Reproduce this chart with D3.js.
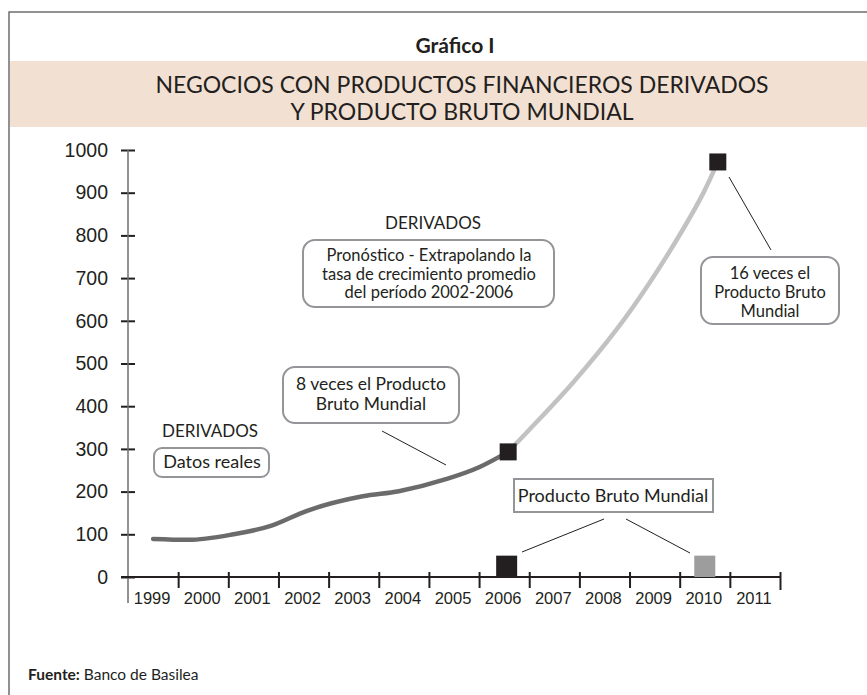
<!DOCTYPE html>
<html>
<head>
<meta charset="utf-8">
<script src="https://cdn.jsdelivr.net/npm/d3@7"></script>
<style>
  body { margin: 0; background: #fff; }
  svg { display: block; }
  .gill { font-family: Lato, "Open Sans", sans-serif; fill: #231f20; }
  .arial { font-family: "Liberation Sans", Arial, sans-serif; fill: #231f20; }
</style>
</head>
<body>
<script>
// data
var years = [1999, 2000, 2001, 2002, 2003, 2004, 2005, 2006, 2007, 2008, 2009, 2010, 2011];
var yTicks = [0, 100, 200, 300, 400, 500, 600, 700, 800, 900, 1000];

var realYears = [1999.0, 1999.7, 2000.6, 2001.33, 2002.07, 2003.18, 2003.9, 2004.84, 2005.5, 2006.08];
var realValues = [89, 87, 100, 119, 155, 189, 201, 229, 257, 293];

var forecastYears = [2006.08, 2006.52, 2007.37, 2008.25, 2008.91, 2009.57, 2009.97, 2010.26];
var forecastValues = [293, 347, 455, 581, 691, 815, 899, 972];

var markerYears = [2006.08, 2010.26];
var markerValues = [293, 972];

var gdpYears = [2006.05, 2010.0];
var gdpValues = [50, 50];
var gdpColors = ["#231f20", "#9d9d9d"];

var width = 867;
var height = 695;

var svg = d3.select("body")
  .append("svg")
  .attr("width", width)
  .attr("height", height);

svg.append("rect").attr("width", width).attr("height", height).attr("fill", "#fff");

// frame (open to the right and bottom)
svg.append("path")
  .attr("d", "M9," + height + " V12 H" + width)
  .attr("fill", "none")
  .attr("stroke", "#6d6e70")
  .attr("stroke-width", 1.5);

svg.append("text")
  .attr("class", "gill")
  .attr("x", 455).attr("y", 53)
  .attr("text-anchor", "middle")
  .style("font-size", "21px")
  .style("font-weight", "bold")
  .text("Gráfico I");

svg.append("rect")
  .attr("x", 10).attr("y", 61)
  .attr("width", width - 10).attr("height", 66)
  .attr("fill", "#f2e1d3");

var subtitle = ["NEGOCIOS CON PRODUCTOS FINANCIEROS DERIVADOS", "Y PRODUCTO BRUTO MUNDIAL"];
svg.selectAll(".subtitle")
  .data(subtitle)
  .enter()
  .append("text")
  .attr("class", "gill subtitle")
  .attr("x", 462)
  .attr("y", (d, i) => 93 + i * 27)
  .attr("text-anchor", "middle")
  .style("font-size", "23px")
  .text(d => d);

// scales
var xScale = d3.scaleLinear()
  .domain([1998.5, 2011.5])
  .range([128, 780]);

var yScale = d3.scaleLinear()
  .domain([0, 1000])
  .range([577, 150]);

// y axis
var yAxis = d3.axisLeft(yScale)
  .tickValues(yTicks)
  .tickFormat(d3.format("d"))
  .tickSize(7)
  .tickPadding(12);

var yG = svg.append("g")
  .attr("transform", "translate(128,0)")
  .call(yAxis);
yG.select(".domain").remove();
yG.selectAll(".tick line")
  .attr("x1", -7).attr("x2", 7)
  .attr("stroke", "#231f20").attr("stroke-width", 2);
yG.selectAll(".tick text")
  .attr("class", "arial")
  .attr("x", -20)
  .style("font-size", "19.5px")
  .attr("font-family", null);

svg.append("line")
  .attr("x1", 128).attr("x2", 128)
  .attr("y1", yScale(1000)).attr("y2", 603)
  .attr("stroke", "#6d6e70").attr("stroke-width", 1.5);

// x axis: ticks at the year boundaries, labels in the middle
var bounds = d3.range(1998.5, 2012, 1);
var xAxis = d3.axisBottom(xScale)
  .tickValues(bounds)
  .tickSize(11)
  .tickFormat("");

var xG = svg.append("g")
  .attr("transform", "translate(0," + yScale(0) + ")")
  .call(xAxis);
xG.select(".domain")
  .attr("d", "M121,0H" + xScale(2011.5))
  .attr("stroke", "#231f20").attr("stroke-width", 2);
xG.selectAll(".tick line")
  .attr("y1", -5)
  .attr("y2", (d, i) => i == bounds.length - 1 ? 13 : 11)
  .attr("stroke", "#231f20").attr("stroke-width", 2);
xG.selectAll(".tick").filter((d, i) => i == 0).select("line").remove();

svg.selectAll(".year")
  .data(years)
  .enter()
  .append("text")
  .attr("class", "arial year")
  .attr("x", d => xScale(d) - 1)
  .attr("y", 604)
  .attr("text-anchor", "middle")
  .style("font-size", "16.5px")
  .text(d => d);

// lines
var line = d3.line()
  .x(d => xScale(d[0]))
  .y(d => yScale(d[1]))
  .curve(d3.curveMonotoneX);

var smoothLine = d3.line()
  .x(d => xScale(d[0]))
  .y(d => yScale(d[1]))
  .curve(d3.curveCatmullRom.alpha(0.5));

svg.append("path")
  .datum(forecastYears.map((y, i) => [y, forecastValues[i]]))
  .attr("d", smoothLine)
  .attr("fill", "none")
  .attr("stroke", "#c2c2c2")
  .attr("stroke-width", 4.5);

svg.append("path")
  .datum(realYears.map((y, i) => [y, realValues[i]]))
  .attr("d", line)
  .attr("fill", "none")
  .attr("stroke", "#6b6b6b")
  .attr("stroke-width", 4.5)
  .attr("stroke-linecap", "round");

var mSize = 17;
svg.selectAll(".marker")
  .data(markerYears)
  .enter()
  .append("rect")
  .attr("class", "marker")
  .attr("x", d => xScale(d) - mSize / 2)
  .attr("y", (d, i) => yScale(markerValues[i]) - mSize / 2)
  .attr("width", mSize)
  .attr("height", mSize)
  .attr("fill", "#231f20");

var gSize = 21;
svg.selectAll(".gdp")
  .data(gdpYears)
  .enter()
  .append("rect")
  .attr("class", "gdp")
  .attr("x", d => xScale(d) - gSize / 2)
  .attr("y", (d, i) => yScale(gdpValues[i]))
  .attr("width", gSize)
  .attr("height", (d, i) => yScale(0) - yScale(gdpValues[i]))
  .attr("fill", (d, i) => gdpColors[i]);

// annotations
function box(x, y, w, h, r, lines, cx, y0, lh, fs) {
  svg.append("rect")
    .attr("x", x).attr("y", y)
    .attr("width", w).attr("height", h)
    .attr("rx", r).attr("ry", r)
    .attr("fill", "#fff")
    .attr("stroke", "#939598")
    .attr("stroke-width", 2);
  lines.forEach((t, i) => {
    svg.append("text")
      .attr("class", "gill")
      .attr("x", cx).attr("y", y0 + i * lh)
      .attr("text-anchor", "middle")
      .style("font-size", fs + "px")
      .text(t);
  });
}

function leader(x1, y1, x2, y2) {
  svg.append("line")
    .attr("x1", x1).attr("y1", y1)
    .attr("x2", x2).attr("y2", y2)
    .attr("stroke", "#231f20")
    .attr("stroke-width", 1);
}

svg.append("text").attr("class", "gill")
  .attr("x", 210).attr("y", 437)
  .attr("text-anchor", "middle")
  .style("font-size", "17px")
  .text("DERIVADOS");
box(154, 448, 115, 29, 8, ["Datos reales"], 212, 468, 0, 18);

svg.append("text").attr("class", "gill")
  .attr("x", 433).attr("y", 229)
  .attr("text-anchor", "middle")
  .style("font-size", "17px")
  .text("DERIVADOS");
box(303, 240, 251, 67, 12, ["Pronóstico - Extrapolando la", "tasa de crecimiento promedio", "del período 2002-2006"], 429, 261, 18.5, 16.5);

box(283, 367, 176, 56, 12, ["8 veces el Producto", "Bruto Mundial"], 371, 390, 20, 17.5);
leader(382, 431, 446, 465);

box(701, 257, 138, 67, 12, ["16 veces el", "Producto Bruto", "Mundial"], 770, 279, 19, 16.5);
leader(729, 177, 771, 250);

box(514, 479, 199, 33, 0, ["Producto Bruto Mundial"], 613, 502, 0, 18);
leader(604, 519, 522, 552);
leader(626, 519, 690, 553);

// source
var src = svg.append("text").attr("class", "gill")
  .attr("x", 28).attr("y", 680)
  .style("font-size", "15.5px");
src.append("tspan").style("font-weight", "bold").text("Fuente:");
src.append("tspan").text(" Banco de Basilea");
</script>
</body>
</html>
